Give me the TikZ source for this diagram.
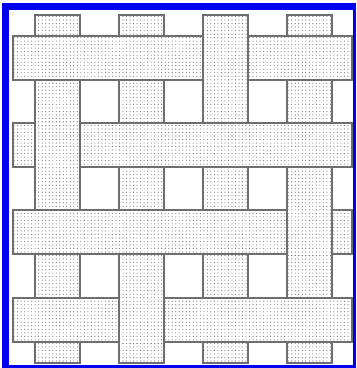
\documentclass[tikz,border=0pt]{standalone}
\usepackage{xcolor}
\usepackage{tikz}
\usetikzlibrary{patterns}
\definecolor{frame}{HTML}{0000F0}
\definecolor{edge}{HTML}{6E6E6E}
\definecolor{dot}{HTML}{7A7A7A}

\begin{document}
\begin{tikzpicture}[x=0.03cm,y=-0.03cm,
  patch/.style={preaction={fill=white},pattern=dots,pattern color=dot},
  strip/.style={patch,draw=edge,line width=1.1pt},
  rim/.style={draw=edge,line width=1.1pt}]
  \useasboundingbox (0,0) rectangle (356,368);
  \fill[frame] (2,3) rectangle (356,10);
  \fill[frame] (2,3) rectangle (9,368);
  \fill[frame] (353,3) rectangle (356,368);
  \fill[frame] (2,365) rectangle (356,368);
  \foreach \x in {35,119,203,287} {\draw[strip] (\x,15) rectangle (\x+45,363);}
  \foreach \y in {36,123,210,298} {\draw[strip] (13,\y) rectangle (352,\y+44);}
  \foreach \x/\y in {35/123,119/298,203/36,287/210} {
    \fill[patch] (\x,\y-1.2) rectangle (\x+45,\y+45.2);
    \draw[rim] (\x,\y-1.2)--(\x,\y+45.2) (\x+45,\y-1.2)--(\x+45,\y+45.2);}
\end{tikzpicture}
\end{document}
